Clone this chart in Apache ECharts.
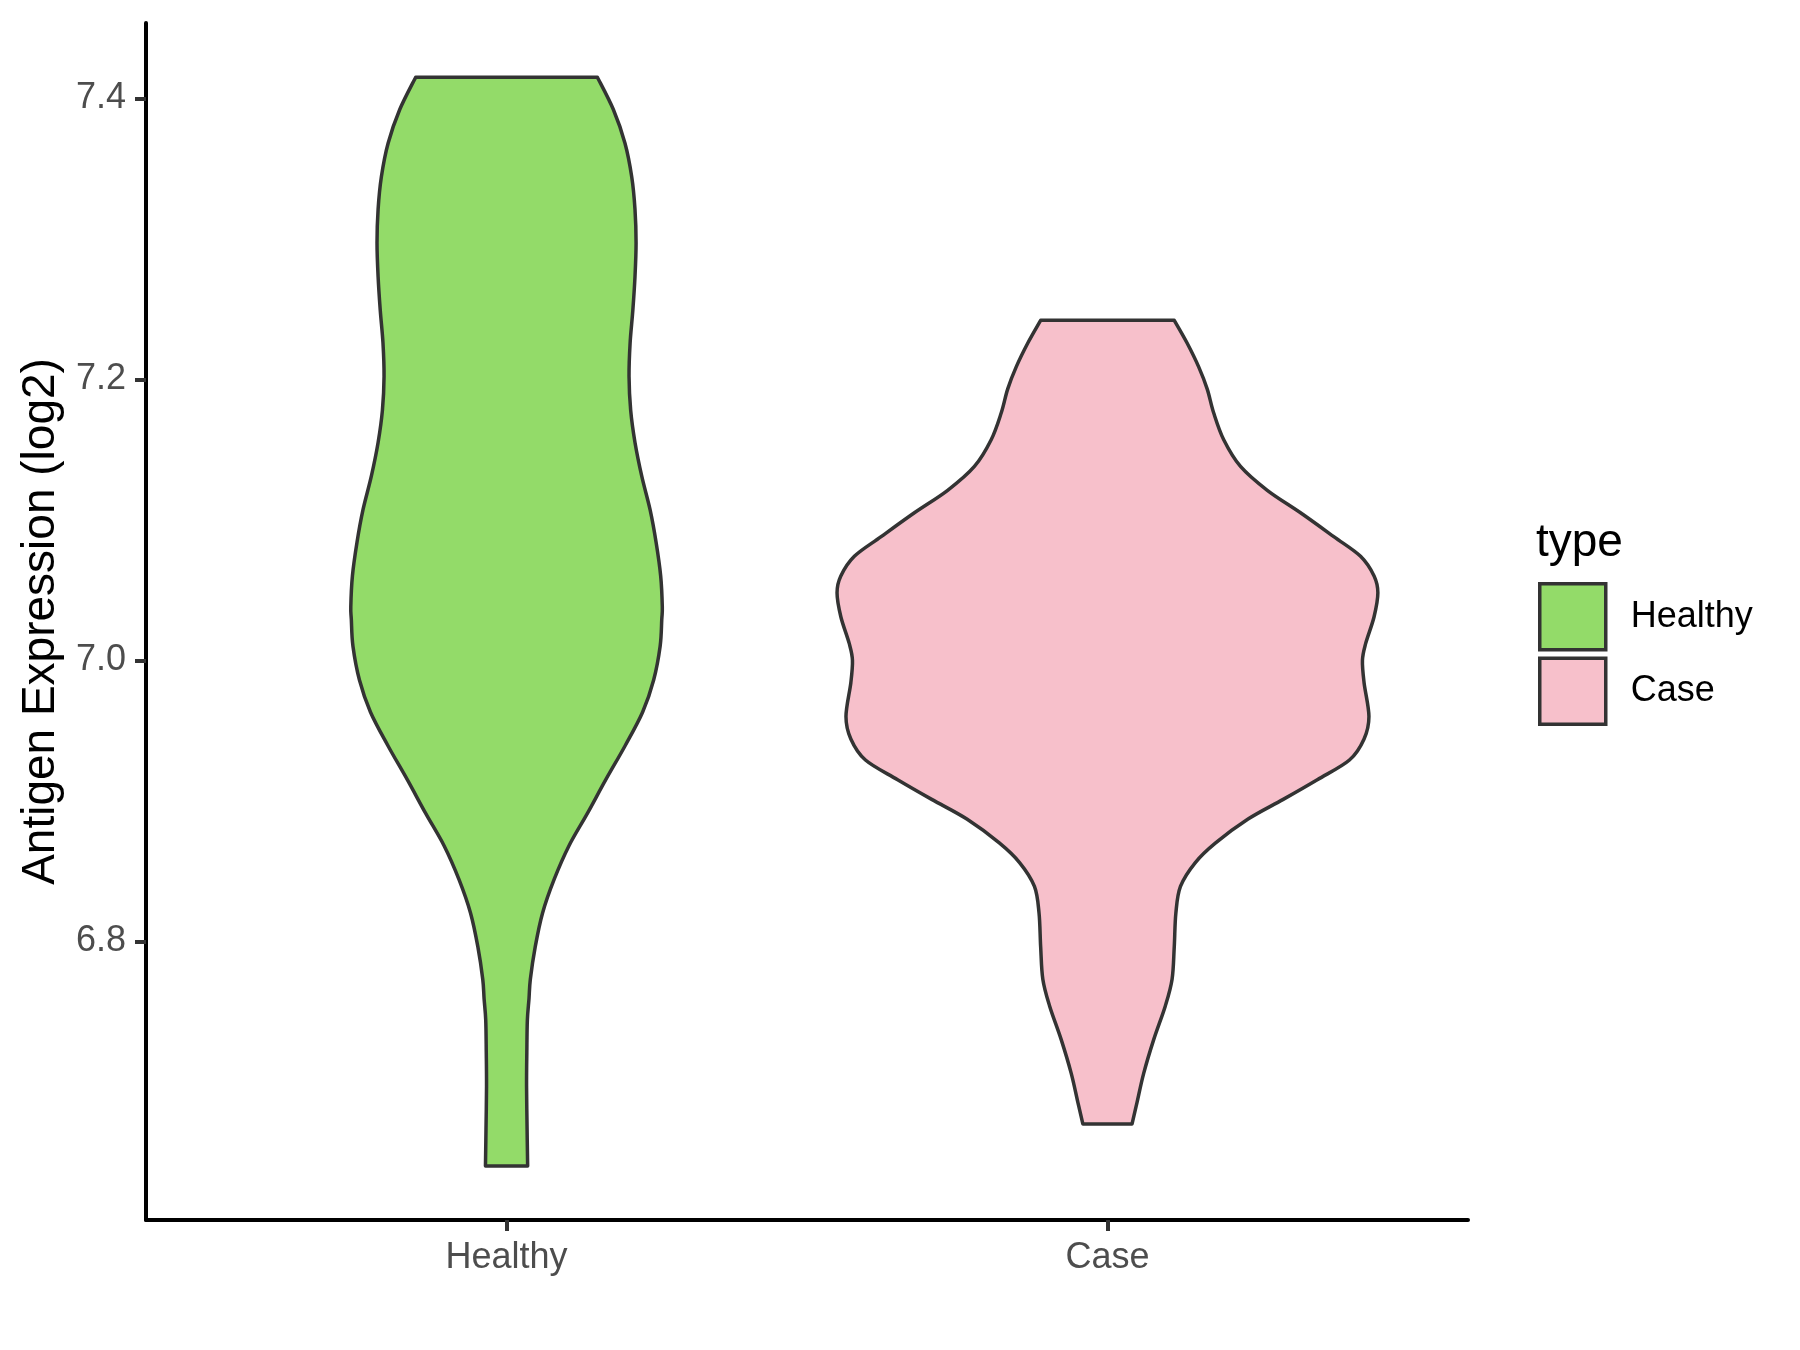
<!DOCTYPE html>
<html>
<head>
<meta charset="utf-8">
<script src="https://cdn.jsdelivr.net/npm/echarts@6/dist/echarts.min.js"></script>
<style>
  html, body { margin: 0; padding: 0; background: #fff; }
  #chart { width: 1800px; height: 1350px; }
</style>
</head>
<body>
<div id="chart"></div>
<script>
// ---- data ----
const categories = ['Healthy', 'Case'];
const yTickValues = [6.8, 7.0, 7.2, 7.4];
const legendTitle = 'type';
const yAxisTitle = 'Antigen Expression (log2)';

// violin outlines: expression value and relative density (1 = widest violin)
const healthyValues = [7.415, 7.392, 7.368, 7.344, 7.321, 7.297, 7.273, 7.249, 7.226, 7.202,
  7.178, 7.155, 7.131, 7.107, 7.084, 7.060, 7.038, 7.029, 7.010, 6.986,
  6.963, 6.939, 6.915, 6.891, 6.868, 6.844, 6.820, 6.796, 6.773, 6.759,
  6.744, 6.721, 6.697, 6.666, 6.640];
const healthyDensity = [0.336, 0.395, 0.438, 0.463, 0.475, 0.479, 0.475, 0.467, 0.457, 0.453,
  0.459, 0.475, 0.500, 0.531, 0.553, 0.570, 0.576, 0.574, 0.568, 0.544,
  0.503, 0.438, 0.367, 0.299, 0.231, 0.176, 0.133, 0.106, 0.088, 0.083,
  0.077, 0.075, 0.074, 0.076, 0.078];

const caseValues = [7.242, 7.226, 7.209, 7.193, 7.176, 7.157, 7.138, 7.121, 7.105, 7.088,
  7.074, 7.060, 7.048, 7.031, 7.012, 7.000, 6.984, 6.960, 6.944, 6.929,
  6.915, 6.901, 6.887, 6.870, 6.856, 6.839, 6.820, 6.796, 6.773, 6.754,
  6.730, 6.706, 6.685, 6.670];
const caseDensity = [0.247, 0.294, 0.337, 0.369, 0.393, 0.430, 0.492, 0.591, 0.714, 0.837,
  0.936, 0.986, 1.000, 0.986, 0.955, 0.943, 0.949, 0.967, 0.949, 0.895,
  0.776, 0.650, 0.520, 0.400, 0.325, 0.270, 0.253, 0.247, 0.239, 0.214,
  0.171, 0.134, 0.109, 0.091];

// ---- styling ----
const FONT = '"Liberation Sans", Arial, Helvetica, sans-serif';
const COLORS = ['#93DB69', '#F7C0CB'];
const OUTLINE = '#333333';
const HALF = 0.45; // max half width in category units (ggplot width 0.9)

function catmull(pts) {
  let d = '';
  for (let i = 0; i < pts.length - 1; i++) {
    const p0 = pts[i - 1] || pts[i];
    const p1 = pts[i];
    const p2 = pts[i + 1];
    const p3 = pts[i + 2] || p2;
    const c1x = p1[0] + (p2[0] - p0[0]) / 6, c1y = p1[1] + (p2[1] - p0[1]) / 6;
    const c2x = p2[0] - (p3[0] - p1[0]) / 6, c2y = p2[1] - (p3[1] - p1[1]) / 6;
    d += ' C' + c1x + ' ' + c1y + ' ' + c2x + ' ' + c2y + ' ' + p2[0] + ' ' + p2[1];
  }
  return d;
}

function makeViolin(catIndex, values, dens, color) {
  const center = catIndex + 1;
  return {
    type: 'custom',
    name: categories[catIndex],
    coordinateSystem: 'cartesian2d',
    itemStyle: { color: color, borderColor: OUTLINE, borderWidth: 3.5 },
    data: values.map((v, i) => [center + dens[i] * HALF, v]),
    encode: { x: 0, y: 1 },
    renderItem: function (params, api) {
      if (params.dataIndex !== 0) return;
      const right = values.map((v, i) => api.coord([center + dens[i] * HALF, v]));
      const left = values.map((v, i) => api.coord([center - dens[i] * HALF, v])).reverse();
      let d = 'M' + right[0][0] + ' ' + right[0][1];
      d += catmull(right);
      d += ' L' + left[0][0] + ' ' + left[0][1];
      d += catmull(left);
      d += ' Z';
      return {
        type: 'path',
        shape: { pathData: d },
        style: { fill: color, stroke: OUTLINE, lineWidth: 3.5, lineJoin: 'round' }
      };
    }
  };
}

const chart = echarts.init(document.getElementById('chart'), null, { renderer: 'canvas' });
chart.setOption({
  animation: false,
  backgroundColor: '#ffffff',
  textStyle: { fontFamily: FONT },
  grid: { left: 146, top: 23, right: 332, bottom: 130, containLabel: false },
  title: {
    text: legendTitle,
    left: 1536, top: 520, padding: 0,
    textStyle: { fontFamily: FONT, fontSize: 46, fontWeight: 'normal', color: '#000000' }
  },
  legend: {
    data: categories,
    orient: 'vertical',
    left: 1538, top: 582, padding: 0,
    itemWidth: 66, itemHeight: 66, itemGap: 5,
    icon: 'rect',
    itemStyle: { borderColor: OUTLINE, borderWidth: 3.5 },
    textStyle: { fontFamily: FONT, fontSize: 36, color: '#000000', padding: [0, 0, 0, 20] },
    selectedMode: false
  },
  xAxis: {
    type: 'value',
    min: 0.4, max: 2.6,
    splitLine: { show: false },
    axisLine: { show: true, onZero: false, lineStyle: { color: '#000000', width: 4 } },
    axisTick: { show: true, length: 11, customValues: [1, 2], lineStyle: { color: '#333333', width: 4 } },
    axisLabel: {
      customValues: [1, 2],
      formatter: (v) => categories[Math.round(v) - 1],
      fontFamily: FONT, fontSize: 36, color: '#4D4D4D', margin: 20
    }
  },
  yAxis: {
    type: 'value',
    min: 6.6016, max: 7.4536,
    splitLine: { show: false },
    axisLine: { show: true, onZero: false, lineStyle: { color: '#000000', width: 4 } },
    axisTick: { show: true, length: 11, customValues: yTickValues, lineStyle: { color: '#333333', width: 4 } },
    axisLabel: {
      customValues: yTickValues,
      formatter: (v) => v.toFixed(1),
      fontFamily: FONT, fontSize: 36, color: '#4D4D4D', margin: 20
    },
    name: yAxisTitle,
    nameLocation: 'middle',
    nameRotate: 90,
    nameGap: 82,
    nameTextStyle: { fontFamily: FONT, fontSize: 46, color: '#000000' }
  },
  series: [
    makeViolin(0, healthyValues, healthyDensity, COLORS[0]),
    makeViolin(1, caseValues, caseDensity, COLORS[1])
  ]
});
</script>
</body>
</html>
